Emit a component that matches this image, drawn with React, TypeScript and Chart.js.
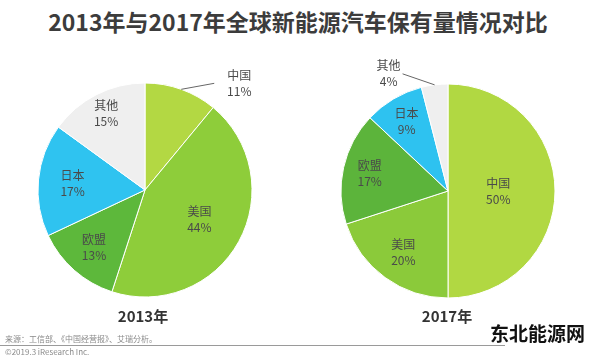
import React, { useEffect, useRef } from "react";
import { Chart, registerables } from "chart.js";

Chart.register(...registerables);

// ---------- data ----------
const title = "2013年与2017年全球新能源汽车保有量情况对比";
const categories2013 = ["中国", "美国", "欧盟", "日本", "其他"];
const values2013 = [11, 44, 13, 17, 15];
const categories2017 = ["中国", "美国", "欧盟", "日本", "其他"];
const values2017 = [50, 20, 17, 9, 4];
const yearLabels = ["2013年", "2017年"];
const sourceText = "来源：工信部、《中国经营报》、艾瑞分析。";
const copyrightText = "©2019.3 iResearch Inc.";
const watermarkText = "东北能源网";

// ---------- styles ----------
const colors2013 = ["#b3d843", "#8ecd3a", "#5db83b", "#2fc3f0", "#efefef"];
const colors2017 = ["#b1d842", "#8bca3a", "#5cb43b", "#2ec2f0", "#efefef"];
const labelRadius2013 = [0, 0.58, 0.72, 0.68, 0.8];
const labelRadius2017 = [0.47, 0.71, 0.75, 0.76, 0];
const outside2013 = { index: 0, dx: 33, dy: -6, labelDx: 25 };
const outside2017 = { index: 4, dx: -32, dy: -11, labelDx: -14 };

const FONT = '"Noto Sans CJK SC", "Noto Sans", sans-serif';

const sliceLabels = {
  id: "sliceLabels",
  afterDatasetsDraw(chart: any, _args: any, opts: any) {
    const ctx = chart.ctx;
    const meta = chart.getDatasetMeta(0);
    const data = chart.data.datasets[0].data;
    const labels = chart.data.labels;
    ctx.save();
    ctx.font = `12px ${FONT}`;
    ctx.fillStyle = "#4a4a4a";
    ctx.textAlign = "center";
    ctx.textBaseline = "middle";
    meta.data.forEach((arc: any, i: number) => {
      const p = arc.getProps(["x", "y", "startAngle", "endAngle", "outerRadius"], true);
      const mid = (p.startAngle + p.endAngle) / 2;
      let lx: number, ly: number;
      if (opts.outside && opts.outside.index === i) {
        const ex = p.x + Math.cos(mid) * p.outerRadius;
        const ey = p.y + Math.sin(mid) * p.outerRadius;
        const tx = ex + opts.outside.dx;
        const ty = ey + opts.outside.dy;
        ctx.strokeStyle = "#666";
        ctx.lineWidth = 1;
        ctx.beginPath();
        ctx.moveTo(ex, ey);
        ctx.lineTo(tx, ty);
        ctx.stroke();
        lx = tx + opts.outside.labelDx;
        ly = ty;
      } else {
        const f = opts.radii[i];
        lx = p.x + Math.cos(mid) * p.outerRadius * f;
        ly = p.y + Math.sin(mid) * p.outerRadius * f;
      }
      ctx.fillText(String(labels[i]), lx, ly - 8);
      ctx.fillText(`${data[i]}%`, lx, ly + 8);
    });
    ctx.restore();
  },
};

function PieChart(props: {
  labels: string[];
  values: number[];
  colors: string[];
  radii: number[];
  outside: any;
  left: number;
  top: number;
}) {
  const ref = useRef<HTMLCanvasElement | null>(null);
  useEffect(() => {
    if (!ref.current) return;
    const chart = new Chart(ref.current, {
      type: "pie",
      data: {
        labels: props.labels,
        datasets: [
          {
            data: props.values,
            backgroundColor: props.colors,
            borderColor: "#ffffff",
            borderWidth: 1,
          },
        ],
      },
      options: {
        animation: false,
        responsive: false,
        radius: 107,
        layout: { padding: 0 },
        plugins: {
          legend: { display: false },
          tooltip: { enabled: false },
          sliceLabels: { radii: props.radii, outside: props.outside },
        } as any,
      } as any,
      plugins: [sliceLabels],
    });
    return () => chart.destroy();
  }, []);
  return (
    <canvas
      ref={ref}
      width={280}
      height={280}
      style={{ position: "absolute", left: props.left, top: props.top, width: 280, height: 280 }}
    />
  );
}

export default function App() {
  return (
    <div
      style={{
        position: "absolute",
        left: 0,
        top: 0,
        width: 600,
        height: 359,
        background: "#ffffff",
        overflow: "hidden",
        fontFamily: FONT,
      }}
    >
      <PieChart
        labels={categories2013}
        values={values2013}
        colors={colors2013}
        radii={labelRadius2013}
        outside={outside2013}
        left={5}
        top={50}
      />
      <PieChart
        labels={categories2017}
        values={values2017}
        colors={colors2017}
        radii={labelRadius2017}
        outside={outside2017}
        left={308}
        top={51}
      />
      <div
        style={{
          position: "absolute",
          left: 0,
          top: 6,
          width: 596,
          textAlign: "center",
          fontSize: 23,
          lineHeight: "30px",
          fontWeight: 700,
          color: "#3c3c3c",
          whiteSpace: "nowrap",
          zIndex: 2,
        }}
      >
        {title}
      </div>
      <div
        style={{
          position: "absolute",
          left: 93,
          top: 305,
          width: 100,
          textAlign: "center",
          fontSize: 15,
          lineHeight: "22px",
          fontWeight: 700,
          color: "#333",
          zIndex: 2,
        }}
      >
        {yearLabels[0]}
      </div>
      <div
        style={{
          position: "absolute",
          left: 397,
          top: 305,
          width: 100,
          textAlign: "center",
          fontSize: 15,
          lineHeight: "22px",
          fontWeight: 700,
          color: "#333",
          zIndex: 2,
        }}
      >
        {yearLabels[1]}
      </div>
      <div
        style={{
          position: "absolute",
          left: 5,
          top: 334,
          fontSize: 8,
          lineHeight: "10px",
          color: "#8a8a8a",
          whiteSpace: "nowrap",
          zIndex: 2,
        }}
      >
        {sourceText}
      </div>
      <div
        style={{
          position: "absolute",
          left: 0,
          top: 345,
          width: 505,
          height: 1,
          background: "#9a9a9a",
          zIndex: 2,
        }}
      />
      <div
        style={{
          position: "absolute",
          left: 5,
          top: 347,
          fontSize: 8,
          lineHeight: "10px",
          color: "#8a8a8a",
          whiteSpace: "nowrap",
          zIndex: 2,
        }}
      >
        {copyrightText}
      </div>
      <div
        style={{
          position: "absolute",
          left: 490,
          top: 321,
          fontSize: 19,
          lineHeight: "24px",
          fontWeight: 700,
          color: "#111",
          whiteSpace: "nowrap",
          zIndex: 3,
        }}
      >
        {watermarkText}
      </div>
    </div>
  );
}
